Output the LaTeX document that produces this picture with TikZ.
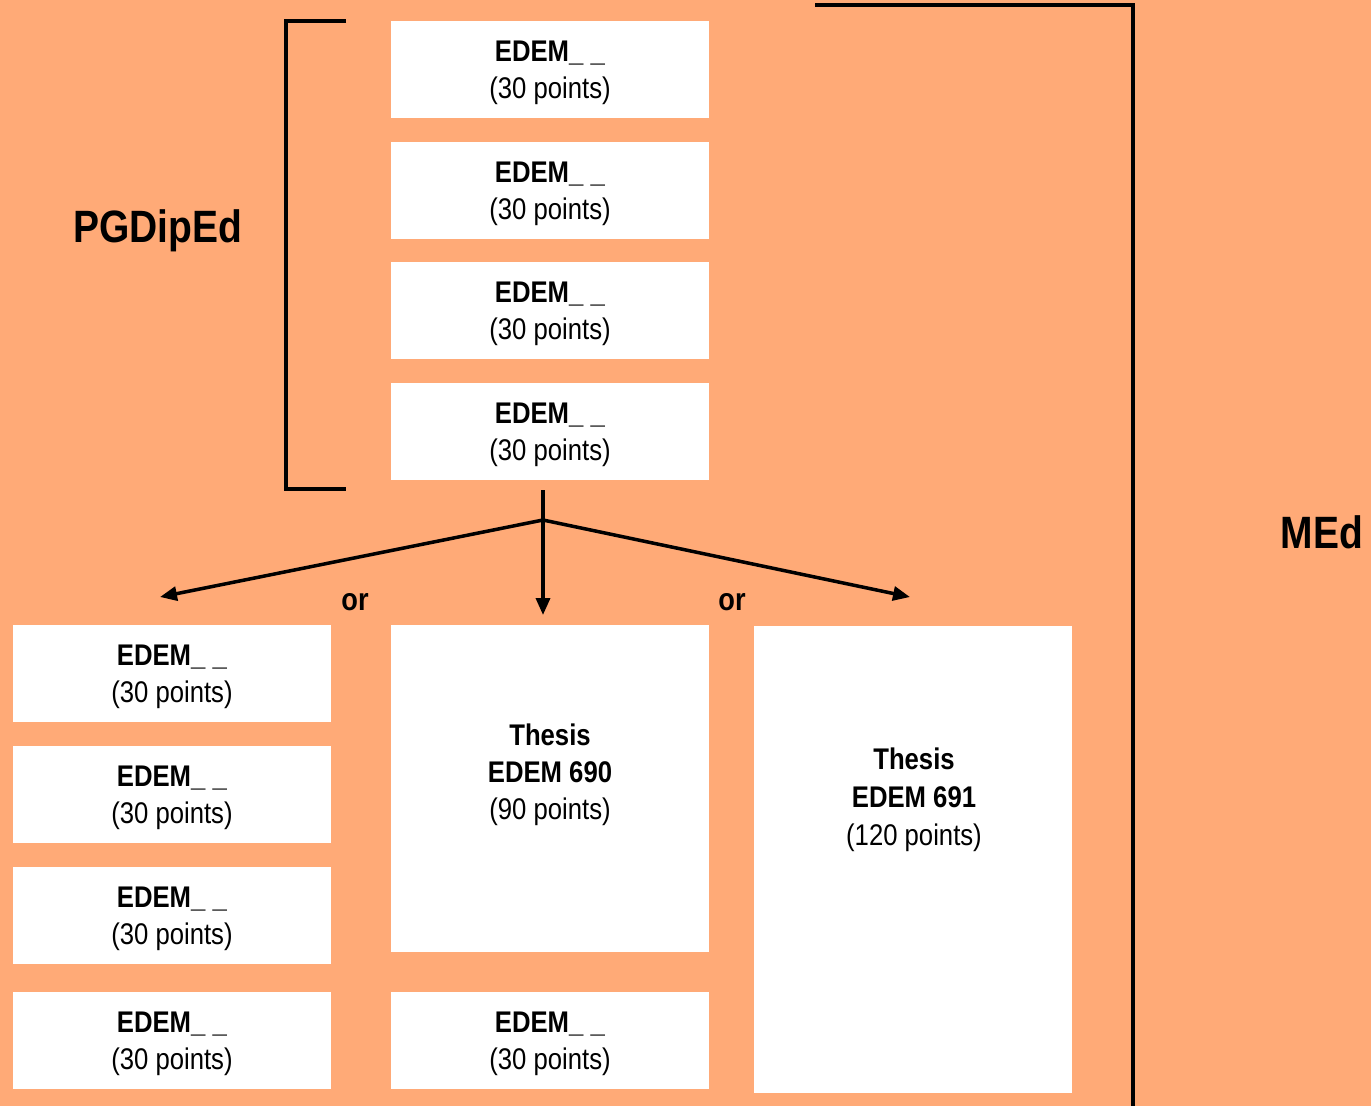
\documentclass[tikz,border=0pt]{standalone}
\usepackage{fontspec}
\setmainfont{Liberation Sans}[FakeStretch=0.86]
\usetikzlibrary{arrows.meta}
\definecolor{peach}{HTML}{FFAA77}
\tikzset{
	course/.style={fill=white, minimum width=6.36cm, minimum height=1.94cm, inner sep=0pt, align=center, text depth=0pt, font=\fontsize{17}{21}\selectfont},
	thesis/.style={fill=white, minimum width=6.36cm, inner sep=0pt},
	rule/.style={line width=2pt},
	route/.style={line width=2pt, -{Triangle[length=3.4mm, width=2.8mm]}},
	award/.style={font=\bfseries\fontsize{25.8}{30}\selectfont},
	choice/.style={font=\bfseries\fontsize{18}{20}\selectfont},
}

\begin{document}
\begin{tikzpicture}[x=0.02cm, y=-0.02cm]
		%%%%% START %%%%%
		
		\fill[peach] (0, 0) rectangle (1371, 1106);
		\useasboundingbox (0, 0) rectangle (1371, 1106);
		
		% PGDipEd papers
		\node[course] (pg1) at (550, 69.5) {\textbf{EDEM\_ \_}\\(30 points)};
		\node[course] (pg2) at (550, 190.5) {\textbf{EDEM\_ \_}\\(30 points)};
		\node[course] (pg3) at (550, 310.5) {\textbf{EDEM\_ \_}\\(30 points)};
		\node[course] (pg4) at (550, 431.5) {\textbf{EDEM\_ \_}\\(30 points)};
		
		\draw[rule] (346, 21) -- (286, 21) -- (286, 489) -- (346, 489);
		\node[award] (pgdip) at (157.5, 231) {PGDipEd};
		
		% MEd bracket
		\draw[rule] (815, 5) -- (1133, 5) -- (1133, 1106);
		\node[award] (med) at (1322, 532) {MEd};
		
		% three routes
		\coordinate (stem) at (543, 490);
		\coordinate (split) at (543, 520);
		\coordinate (leftend) at (160, 597);
		\coordinate (midend) at (543, 615);
		\coordinate (rightend) at (910, 597);
		\draw[rule] (stem) -- (split);
		\draw[route] (split) -- (leftend);
		\draw[route] (split) -- (midend);
		\draw[route] (split) -- (rightend);
		\node[choice] (or1) at (355, 602) {or};
		\node[choice] (or2) at (732, 602) {or};
		
		% route 1: papers only
		\node[course] (ma1) at (172, 673.5) {\textbf{EDEM\_ \_}\\(30 points)};
		\node[course] (ma2) at (172, 794.5) {\textbf{EDEM\_ \_}\\(30 points)};
		\node[course] (ma3) at (172, 915.5) {\textbf{EDEM\_ \_}\\(30 points)};
		\node[course] (ma4) at (172, 1040.5) {\textbf{EDEM\_ \_}\\(30 points)};
		
		% route 2: 90 point thesis
		\node[thesis, minimum height=6.54cm] (th690) at (550, 788.5) {};
		\node[align=center, font=\fontsize{17}{21}\selectfont] (txt690) at (550, 775) {\textbf{Thesis}\\\textbf{EDEM 690}\\(90 points)};
		\node[course] (mb1) at (550, 1040.5) {\textbf{EDEM\_ \_}\\(30 points)};
		
		% route 3: 120 point thesis
		\node[thesis, minimum height=9.34cm] (th691) at (913, 859.5) {};
		\node[align=center, font=\fontsize{17}{21.5}\selectfont] (txt691) at (914, 800) {\textbf{Thesis}\\\textbf{EDEM 691}\\(120 points)};
		
		%%%%% END %%%%%
	\end{tikzpicture}
\end{document}
